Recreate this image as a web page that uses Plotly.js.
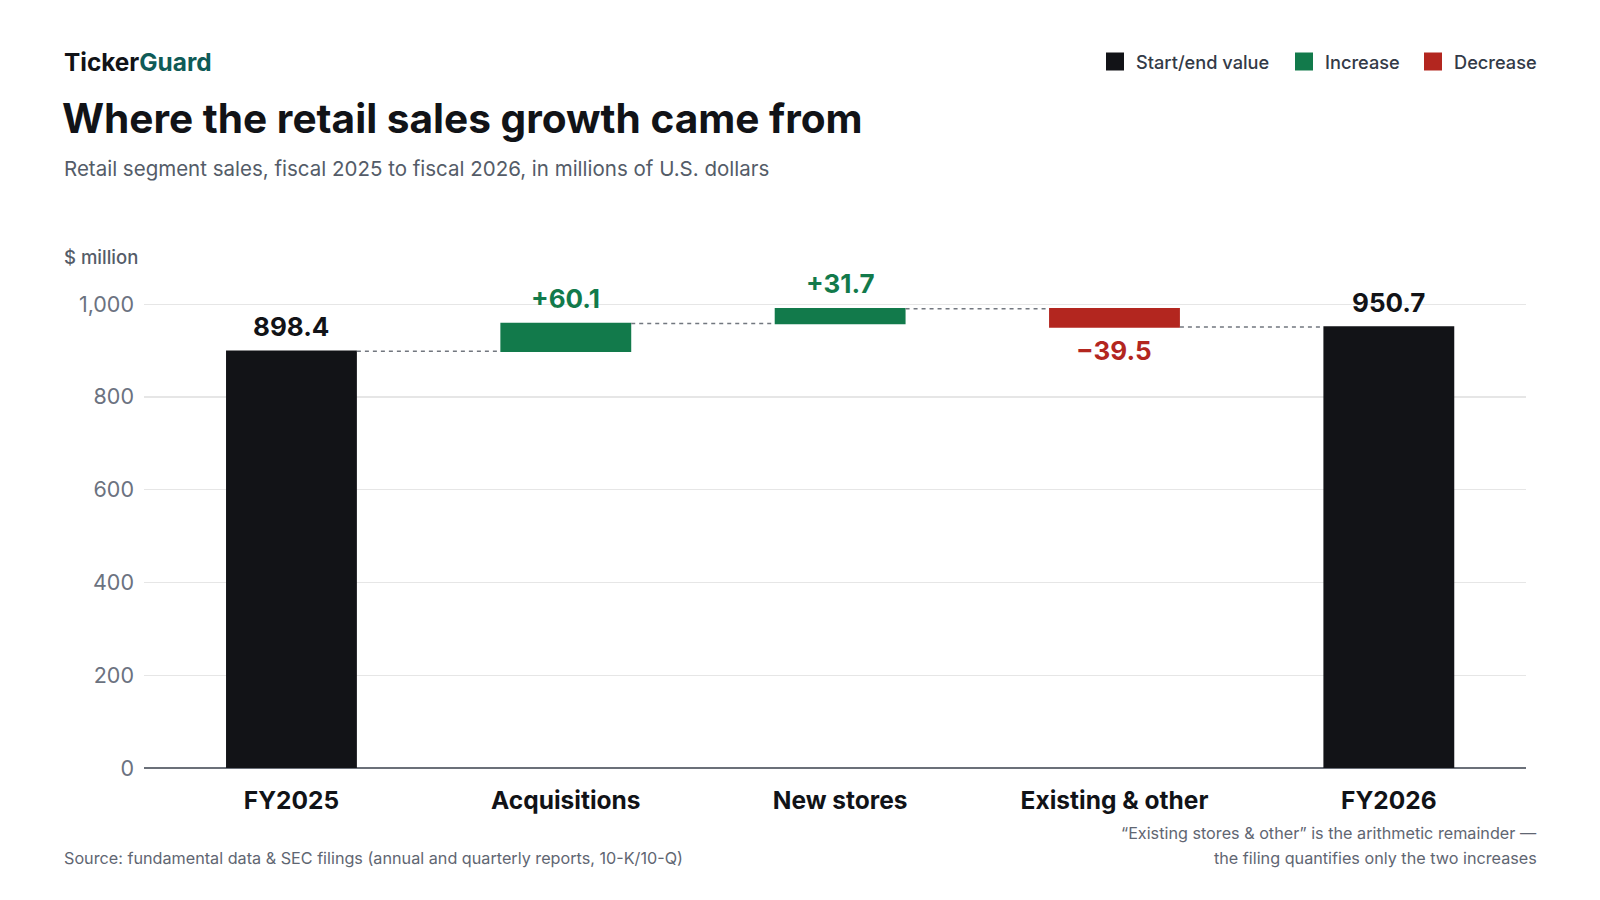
<!DOCTYPE html>
<html>
<head>
<meta charset="utf-8">
<script src="https://cdn.plot.ly/plotly-3.0.1.min.js"></script>
<style>
  html, body { margin: 0; padding: 0; background: #fff; }
  #chart { width: 1600px; height: 900px; }
</style>
</head>
<body>
<div id="chart"></div>
<script>
var categories = ['FY2025', 'Acquisitions', 'New stores', 'Existing & other', 'FY2026'];
var measures = ['absolute', 'relative', 'relative', 'relative', 'total'];
var values = [898.4, 60.1, 31.7, -39.5, 950.7];
var yTicks = [0, 200, 400, 600, 800, 1000];

var colTotal = '#121317';
var colUp = '#127a4b';
var colDown = '#b3261f';

// plot box in pixels, used to place the header/footer bits
var L = 144, R = 1526, T = 281, B = 768;
function px(x) { return (x - L) / (R - L); }
function py(y) { return (B - y) / (B - T); }

var trace = {
  type: 'waterfall',
  x: categories,
  y: values,
  measure: measures,
  textinfo: 'none',
  width: 0.477,
  connector: { mode: 'between', line: { color: '#72777f', width: 1.5, dash: '4px,4px' } },
  increasing: { marker: { color: colUp } },
  decreasing: { marker: { color: colDown } },
  totals: { marker: { color: colTotal } },
  hoverinfo: 'skip',
  showlegend: false
};

var shapes = [];
var annotations = [];

// value labels: above the bar end, below it for a decrease
var running = 0;
values.forEach(function (v, i) {
  var lo, hi, txt, col;
  if (measures[i] === 'relative') {
    lo = Math.min(running, running + v);
    hi = Math.max(running, running + v);
    running += v;
    txt = (v >= 0 ? '+' : '\u2212') + Math.abs(v).toFixed(1);
    col = v >= 0 ? colUp : colDown;
  } else {
    if (measures[i] === 'absolute') running = v;
    lo = 0; hi = running;
    txt = running.toFixed(1);
    col = colTotal;
  }
  var down = measures[i] === 'relative' && v < 0;
  annotations.push({
    x: categories[i], y: down ? lo : hi, xref: 'x', yref: 'y',
    yanchor: 'middle', yshift: down ? -23 : 25, showarrow: false,
    text: '<b>' + txt + '</b>',
    font: { family: 'Inter', size: 26, color: col }
  });
});

var legendItems = [
  { name: 'Start/end value', color: colTotal, sq: 1106 },
  { name: 'Increase', color: colUp, sq: 1295 },
  { name: 'Decrease', color: colDown, sq: 1424 }
];
legendItems.forEach(function (it) {
  shapes.push({
    type: 'rect', xref: 'paper', yref: 'paper',
    x0: px(it.sq), x1: px(it.sq + 18), y0: py(70.5), y1: py(52.5),
    fillcolor: it.color, line: { width: 0 }
  });
  annotations.push({
    xref: 'paper', yref: 'paper', x: px(it.sq + 28), y: py(61.5),
    xanchor: 'left', yanchor: 'middle', showarrow: false,
    text: it.name, font: { family: 'Inter', size: 18.2, color: '#333a47', weight: 500 }
  });
});

var noteLines = [
  '\u201CExisting stores &amp; other\u201D is the arithmetic remainder \u2014',
  'the filing quantifies only the two increases'
];
noteLines.forEach(function (t, i) {
  annotations.push({
    xref: 'paper', yref: 'paper', x: px(1539), y: py(833 + i * 24.5),
    xanchor: 'right', yanchor: 'middle', showarrow: false,
    text: t, font: { family: 'Inter', size: 16.2, color: '#5f6672' }
  });
});

annotations.push(
  { xref: 'paper', yref: 'paper', x: px(62), y: py(62), xanchor: 'left', yanchor: 'middle', showarrow: false,
    text: '<b>Ticker<span style="color:#0f5b57">Guard</span></b>',
    font: { family: 'Inter', size: 24.4, color: '#111317' } },
  { xref: 'paper', yref: 'paper', x: px(62), y: py(168.5), xanchor: 'left', yanchor: 'middle', showarrow: false,
    text: 'Retail segment sales, fiscal 2025 to fiscal 2026, in millions of U.S. dollars',
    font: { family: 'Inter', size: 20.5, color: '#545c68' } },
  { xref: 'paper', yref: 'paper', x: px(62), y: py(257), xanchor: 'left', yanchor: 'middle', showarrow: false,
    text: '$ million', font: { family: 'Inter', size: 18.5, color: '#545c68', weight: 500 } },
  { xref: 'paper', yref: 'paper', x: px(62), y: py(857.5), xanchor: 'left', yanchor: 'middle', showarrow: false,
    text: 'Source: fundamental data &amp; SEC filings (annual and quarterly reports, 10-K/10-Q)',
    font: { family: 'Inter', size: 16.2, color: '#5f6672' } }
);

var layout = {
  width: 1600,
  height: 900,
  paper_bgcolor: '#ffffff',
  plot_bgcolor: '#ffffff',
  margin: { l: L, r: 1600 - R, t: T, b: 900 - B },
  title: {
    text: '<b>Where the retail sales growth came from</b>',
    xref: 'container', yref: 'container',
    x: 62 / 1600, y: 1 - 119 / 900, xanchor: 'left', yanchor: 'middle',
    font: { family: 'Inter', size: 40.6, color: '#111317' }
  },
  xaxis: {
    type: 'category',
    range: [-0.5375, 4.5],
    showgrid: false,
    zeroline: false,
    showline: false,
    ticks: '',
    ticklabelstandoff: 15,
    tickfont: { family: 'Inter', size: 24.5, color: '#111317', weight: 700 },
    fixedrange: true
  },
  yaxis: {
    range: [0, 1050],
    tickvals: yTicks,
    tickformat: ',',
    showgrid: true,
    gridcolor: '#e6e6e6',
    gridwidth: 1.2,
    zeroline: true,
    zerolinecolor: '#6b7079',
    zerolinewidth: 2,
    ticks: '',
    ticklabelstandoff: 9,
    tickfont: { family: 'Inter', size: 21.5, color: '#6b7280' },
    fixedrange: true
  },
  shapes: shapes,
  annotations: annotations
};

Plotly.newPlot('chart', [trace], layout, { displayModeBar: false, staticPlot: true });
</script>
</body>
</html>
